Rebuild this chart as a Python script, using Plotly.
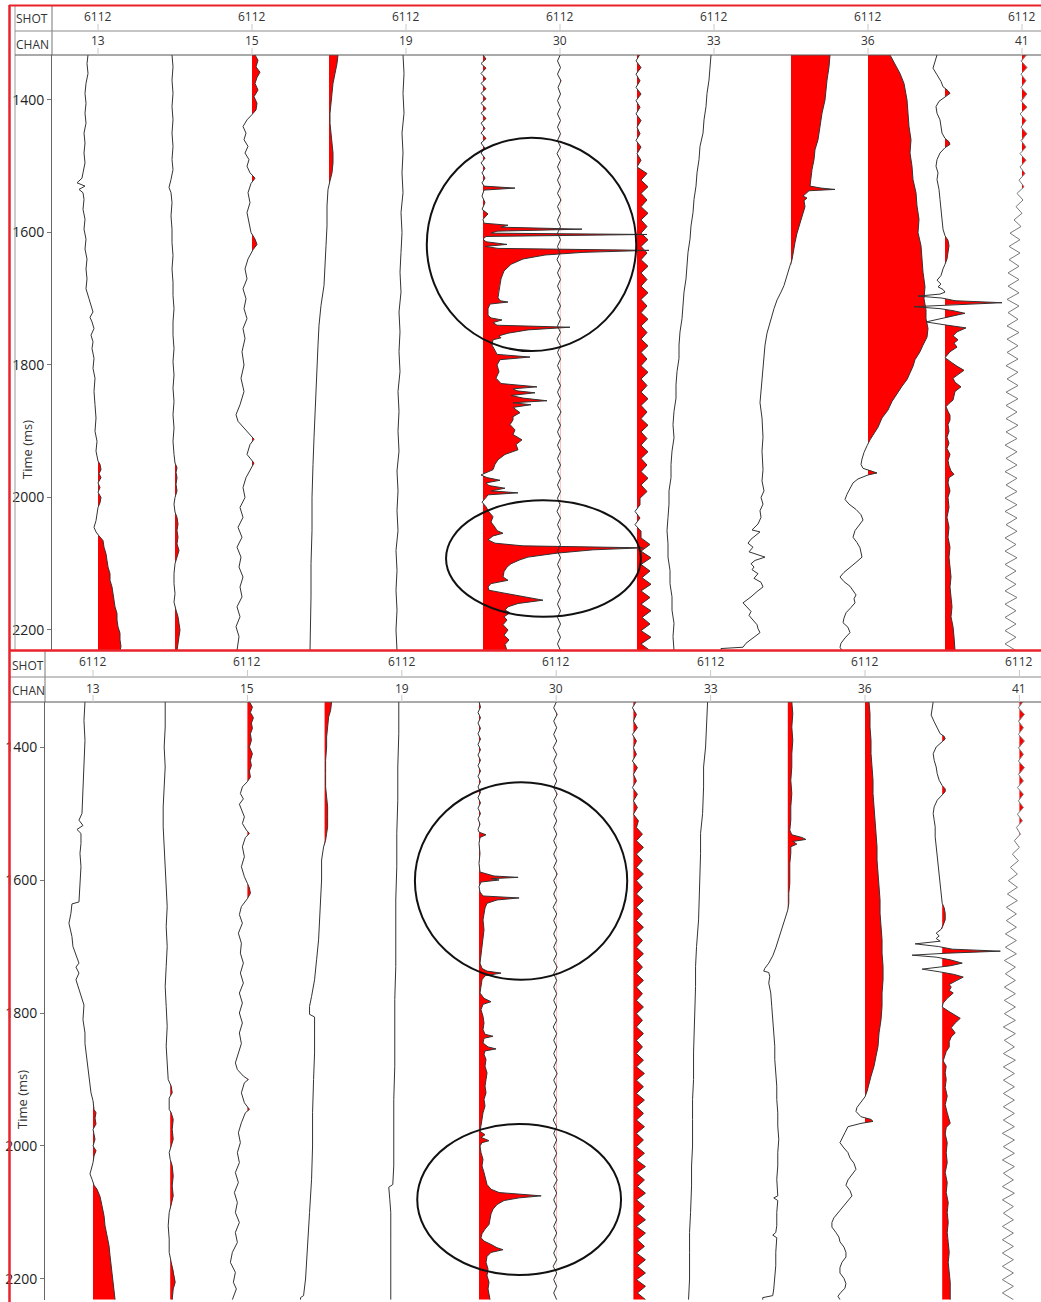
import plotly.graph_objects as go

W, H = 1041, 1302

# ---------------- labels / ticks ----------------
LABEL_IDX = [0, 2, 4, 6, 8, 10, 12]
SHOT_LABELS = ["6112", "6112", "6112", "6112", "6112", "6112", "6112"]
CHAN_LABELS = ["13", "15", "19", "30", "33", "36", "41"]
TIME_TICKS = [1400, 1600, 1800, 2000, 2200]

# amplitude unit: 1 = 1/77 of trace spacing
GAIN = 1.0 / 77.0

# regular sample times (ms) for the oscillating traces
ZIG_T = list(range(1331, 2232, 10))

# ---------------- TOP PANEL traces (time ms, amplitude) ----------------
T0 = [(1332,-10),(1345,-11),(1360,-10),(1375,-12),(1390,-13),(1405,-12),(1420,-13),(1435,-12),(1450,-14),(1465,-13),
      (1480,-14),(1495,-13),(1510,-15),(1518,-16),(1525,-21),(1530,-13),(1535,-19),(1540,-15),(1550,-14),(1565,-15),
      (1580,-13),(1595,-14),(1610,-12),(1625,-13),(1640,-11),(1655,-12),(1670,-11),(1685,-12),(1700,-9),(1710,-7),
      (1720,-5),(1728,-8),(1735,-6),(1745,-4),(1755,-7),(1765,-5),(1775,-6),(1790,-4),(1805,-5),(1820,-3),(1840,-4),
      (1860,-3),(1880,-2),(1900,-3),(1915,-1),(1930,-2),(1945,0),(1950,2),(1958,3),(1964,1),(1970,3),(1978,0),(1985,2),
      (1992,0),(2000,3),(2008,2),(2015,0),(2025,-1),(2035,-2),(2045,-4),(2052,-2),(2058,1),(2065,5),(2075,6),(2085,8),
      (2095,9),(2105,10),(2115,12),(2125,12),(2135,14),(2145,15),(2155,16),(2165,17),(2175,19),(2185,19),(2195,20),
      (2205,22),(2215,22),(2225,23),(2231,22)]
T1 = [(1332,-3),(1350,-2),(1370,-3),(1390,-2),(1410,-3),(1430,-2),(1450,-3),(1470,-2),(1490,-3),(1505,-2),(1520,-4),
      (1532,-6),(1540,-4),(1555,-3),(1575,-4),(1595,-3),(1615,-3),(1635,-2),(1655,-3),(1675,-2),(1695,-2),(1715,-1),
      (1735,-2),(1755,-2),(1775,-1),(1795,-2),(1815,-1),(1835,-2),(1855,-1),(1875,-2),(1895,-1),(1915,-2),(1935,-1),
      (1948,0),(1955,2),(1962,1),(1970,2),(1980,1),(1990,2),(2000,0),(2010,-1),(2022,0),(2030,2),(2040,3),(2050,2),
      (2060,3),(2070,2),(2080,4),(2090,2),(2100,0),(2115,-1),(2130,-1),(2145,0),(2158,-1),(2170,1),(2180,3),(2190,4),
      (2200,5),(2210,4),(2220,3),(2231,2)]
T2 = [(1332,3),(1340,6),(1350,4),(1358,8),(1366,5),(1375,3),(1385,6),(1395,2),(1405,5),(1415,4),(1422,0),(1430,-5),
      (1440,-9),(1450,-6),(1460,-8),(1470,-4),(1480,-7),(1490,-3),(1500,-5),(1510,-2),(1518,3),(1526,-1),(1540,-4),
      (1555,-2),(1570,-5),(1585,-3),(1600,-1),(1610,3),(1618,5),(1626,1),(1640,-4),(1655,-7),(1670,-5),(1685,-9),
      (1700,-6),(1715,-8),(1730,-5),(1745,-9),(1760,-7),(1780,-10),(1800,-8),(1820,-11),(1840,-8),(1860,-12),(1875,-16),
      (1885,-14),(1895,-8),(1905,-3),(1912,2),(1920,-2),(1935,-5),(1948,2),(1956,-1),(1970,-6),(1985,-9),(2000,-7),
      (2015,-12),(2030,-9),(2045,-14),(2060,-10),(2075,-15),(2090,-11),(2105,-13),(2120,-9),(2135,-12),(2150,-10),
      (2165,-15),(2180,-12),(2195,-16),(2210,-13),(2231,-15)]
T3 = [(1332,9),(1345,8),(1360,6),(1375,4),(1390,3),(1405,2),(1420,1),(1435,1),(1450,2),(1465,3),(1480,4),(1495,4),
      (1510,3),(1522,1),(1535,-1),(1560,-2),(1590,-2),(1620,-3),(1650,-4),(1680,-5),(1710,-8),(1740,-10),(1770,-11),
      (1800,-12),(1830,-13),(1870,-14),(1910,-15),(1950,-16),(2000,-17),(2050,-17),(2100,-18),(2150,-18),(2200,-19),
      (2231,-19)]
T4 = [(1332,-3),(1360,-2),(1390,-3),(1420,-2),(1450,-4),(1480,-3),(1510,-4),(1540,-3),(1570,-5),(1600,-4),(1630,-5),
      (1660,-6),(1690,-5),(1720,-7),(1750,-6),(1780,-7),(1810,-6),(1840,-8),(1870,-7),(1900,-8),(1930,-7),(1960,-9),
      (1990,-8),(2020,-9),(2050,-8),(2080,-10),(2110,-9),(2140,-10),(2170,-9),(2200,-10),(2231,-9)]
T5 = [(1332,0),(1338,3),(1345,-2),(1352,3),(1360,-2),(1368,3),(1375,-2),(1383,3),(1390,-2),(1398,3),(1405,-2),(1413,3),
      (1420,-2),(1428,3),(1435,-2),(1443,2),(1450,-2),(1458,3),(1465,-2),(1473,2),(1480,-2),(1488,2),(1495,-2),(1503,2),
      (1510,-1),(1518,2),(1525,-1),(1530,1),(1533,32),(1536,1),(1545,-1),(1555,2),(1565,-1),(1572,5),(1580,0),(1586,1),
      (1589,25),(1592,18),(1595,99),(1598,14),(1601,8),(1603,164),(1606,3),(1610,0),(1614,3),(1618,24),(1621,2),
      (1624,15),(1627,166),(1630,100),(1634,62),(1640,40),(1648,28),(1658,21),(1670,18),(1685,16),(1698,15),(1703,17),
      (1705,25),(1708,7),(1715,5),(1725,5),(1729,8),(1732,19),(1736,10),(1740,14),(1743,87),(1747,45),(1752,25),
      (1756,16),(1759,18),(1762,10),(1770,9),(1778,12),(1784,14),(1788,47),(1792,17),(1800,14),(1810,16),(1820,13),
      (1828,18),(1833,54),(1836,30),(1839,34),(1842,52),(1846,28),(1850,40),(1854,64),(1857,30),(1860,48),(1864,30),
      (1872,37),(1878,30),(1883,30),(1890,27),(1898,32),(1905,30),(1913,39),(1920,33),(1928,35),(1935,22),(1943,15),
      (1950,12),(1958,10),(1962,3),(1966,-2),(1970,4),(1974,17),(1978,3),(1982,6),(1986,22),(1990,8),(1993,35),(1996,5),
      (2000,3),(2007,-1),(2014,3),(2022,6),(2029,10),(2037,8),(2045,12),(2050,14),(2054,20),(2058,10),(2064,5),
      (2069,12),(2073,40),(2076,160),(2079,110),(2084,74),(2090,45),(2094,37),(2100,28),(2105,24),(2112,21),(2120,20),
      (2125,25),(2130,8),(2135,5),(2140,6),(2144,20),(2150,40),(2155,60),(2160,35),(2165,25),(2170,22),(2174,27),
      (2180,21),(2185,24),(2192,20),(2200,25),(2208,21),(2215,26),(2222,22),(2231,24)]
T6 = [0.5,-2.5,0.5,-2.5,1,-2,0.5,-2.5,0.5,-2.5,
      0.5,-2.5,0.5,-2.5,0.5,-3,0.5,-2.5,0.5,-2.5,
      0.5,-2.5,1,-2.5,0.5,-2.5,0.5,-2.5,0.5,-2.5,
      0,-3,0.5,-2.5,0.5,-2.5,0.5,-2.5,0.5,-2.5,
      0.5,-2.5,0.5,-3,0.5,-2.5,0.5,-2.5,0.5,-2.5,
      0.5,-2.5,0.5,-2.5,1,-2.5,0.5,-2.5,0.5,-2.5,
      0.5,-2.5,0.5,-2.5,0.5,-2.5,0.5,-2.5,0,-3,
      0.5,-2.5,0.5,-2.5,0.5,-2.5,0.5,-2.5,0.5,-2.5,
      0.5,-2.5,0.5,-2.5,0.5,-2.5,0.5,-2.5,0.5,-2.5,
      0.5]
T7 = [3,-1,4,-1,3,-1,4,-1,3,-1,
      4,0,3,-1,4,0,4,0,
      10,4,11,4,10,4,11,4,10,4,
      11,4,10,4,11,4,10,4,11,4,
      10,4,11,4,10,4,11,4,10,4,
      11,4,10,4,11,4,10,4,11,4,
      10,4,11,4,10,4,11,4,10,3,
      3,-2,3,-2,4,
      4,13,4,14,4,13,5,14,4,13,4,14,5,13,4,14,4,
      13]
T8 = [(1332,-3),(1350,-4),(1370,-5),(1390,-7),(1410,-8),(1430,-10),(1450,-11),(1470,-14),(1490,-15),(1510,-17),
      (1530,-18),(1550,-20),(1570,-21),(1590,-23),(1610,-24),(1630,-26),(1650,-27),(1670,-28),(1690,-30),(1710,-31),
      (1730,-32),(1750,-34),(1770,-35),(1790,-35),(1810,-37),(1830,-38),(1850,-38),(1870,-40),(1890,-41),(1910,-40),
      (1930,-42),(1950,-43),(1970,-43),(1990,-45),(2010,-45),(2030,-46),(2050,-47),(2070,-46),(2090,-46),(2110,-44),
      (2130,-44),(2150,-42),(2170,-42),(2190,-40),(2210,-41),(2231,-40)]
T9 = [(1332,39),(1350,38),(1370,36),(1390,35),(1400,34),(1420,31),(1440,29),(1460,27),(1475,24),(1490,23),(1505,21),
      (1520,20),(1530,19),(1533,30),(1535,44),(1537,18),(1541,15),(1545,12),(1548,16),(1552,13),(1561,14),(1575,11),
      (1590,8),(1601,6),(1615,4),(1630,2),(1641,1),(1650,-1),(1667,-4),(1680,-7),(1690,-10),(1702,-14),(1715,-17),
      (1730,-20),(1752,-24),(1770,-26),(1790,-27),(1812,-28),(1830,-29),(1857,-31),(1880,-29),(1909,-28),(1930,-29),
      (1958,-28),(1975,-29),(1990,-27),(2000,-30),(2010,-28),(2020,-31),(2030,-30),(2040,-33),(2049,-39),(2052,-31),
      (2058,-36),(2063,-40),(2069,-43),(2075,-38),(2082,-42),(2090,-26),(2095,-36),(2100,-40),(2105,-37),(2109,-39),
      (2115,-33),(2122,-37),(2128,-30),(2135,-28),(2142,-34),(2150,-40),(2159,-48),(2165,-44),(2172,-40),(2178,-42),
      (2185,-38),(2192,-34),(2198,-33),(2204,-31),(2212,-38),(2220,-45),(2226,-48),(2228,-70),(2231,-70)]
T10 = [(1332,22),(1345,27),(1360,32),(1375,36),(1390,38),(1400,39),(1420,40),(1440,41),(1460,43),(1480,42),(1500,44),
       (1520,45),(1540,48),(1560,49),(1580,51),(1600,50),(1620,53),(1640,54),(1660,55),(1682,57),(1700,56),(1717,58),
       (1730,58),(1745,60),(1758,59),(1770,55),(1780,52),(1792,47),(1802,45),(1812,42),(1822,39),(1832,34),(1842,30),
       (1855,24),(1868,20),(1880,14),(1894,10),(1905,5),(1913,2),(1922,-1),(1932,-4),(1942,-6),(1950,-7),(1956,-5),
       (1960,4),(1963,9),(1966,0),(1972,-10),(1978,-15),(1986,-18),(1995,-21),(2003,-23),(2010,-19),(2018,-12),
       (2026,-7),(2034,-5),(2042,-9),(2050,-13),(2060,-15),(2068,-11),(2076,-8),(2083,-7),(2090,-6),(2098,-12),
       (2106,-19),(2113,-24),(2120,-28),(2127,-24),(2134,-18),(2140,-15),(2147,-12),(2153,-14),(2159,-13),(2166,-17),
       (2174,-22),(2182,-24),(2189,-25),(2196,-20),(2204,-18),(2212,-23),(2220,-27),(2226,-28),(2231,-26)]
T11 = [(1332,-8),(1342,-10),(1352,-12),(1362,-8),(1372,-4),(1380,-2),(1386,3),(1390,5),(1395,0),(1402,-6),(1410,-9),
       (1420,-8),(1430,-5),(1440,-4),(1450,-3),(1458,0),(1463,4),(1467,5),(1472,0),(1480,-5),(1490,-8),(1500,-9),
       (1510,-7),(1520,-8),(1535,-6),(1550,-5),(1565,-4),(1580,-3),(1595,-2),(1605,0),(1612,3),(1620,4),(1630,3),
       (1640,2),(1648,0),(1655,-2),(1665,-4),(1672,-8),(1678,-4),(1682,-7),(1686,-2),(1690,0),(1693,-5),(1696,-27),
       (1699,-3),(1703,10),(1706,57),(1709,5),(1712,-31),(1715,-5),(1718,8),(1722,20),(1726,8),(1731,-5),(1735,-19),
       (1739,-2),(1744,21),(1750,12),(1756,8),(1762,13),(1767,9),(1773,12),(1780,5),(1789,0),(1796,6),(1802,12),
       (1808,19),(1815,12),(1820,8),(1826,10),(1833,16),(1840,10),(1847,9),(1853,8),(1858,4),(1863,1),(1870,3),
       (1876,5),(1883,5),(1890,3),(1900,4),(1909,2),(1918,4),(1926,2),(1935,5),(1944,3),(1952,4),(1960,6),(1965,9),
       (1970,4),(1978,3),(1990,5),(2000,3),(2015,4),(2030,2),(2045,4),(2060,3),(2075,5),(2090,4),(2105,5),(2120,6),
       (2135,5),(2150,6),(2165,7),(2180,6),(2195,8),(2210,9),(2231,10)]
T12 = [5,-1,5,-1,4,-1,5,-1,5,-2,4,-1,5,-1,4,-2,4,-2,3,
       -3,2,-5,1,-6,0,-8,-1,
       -12,-2,-13,-2,-13,-3,-14,-3,-14,-3,
       -15,-3,-14,-4,-15,-3,-15,-4,-15,-4,
       -16,-4,-15,-4,-16,-4,-16,-5,-16,-4,
       -16,-5,-17,-5,-16,-5,-17,-5,-16,-5,
       -17,-5,-17,-5,-16,-5,-17,-6,-17,-5,
       -17,-6,-17,-6,-17,-5,-17,-6,-17,-6,
       -17,-6,-17,
       -6]

# ---------------- BOTTOM PANEL traces ----------------
B0 = [(1332,-8),(1360,-9),(1390,-8),(1420,-9),(1450,-10),(1480,-11),(1500,-11),(1510,-14),(1518,-10),(1524,-16),
      (1530,-12),(1545,-12),(1560,-13),(1580,-12),(1600,-13),(1620,-14),(1633,-14),(1636,-21),(1650,-22),(1665,-24),
      (1673,-23),(1685,-21),(1700,-20),(1715,-16),(1725,-14),(1731,-17),(1740,-14),(1750,-17),(1760,-15),(1775,-12),
      (1788,-9),(1810,-10),(1830,-8),(1846,-8),(1870,-6),(1890,-4),(1904,-3),(1920,-2),(1932,0),(1945,1),(1950,3),
      (1958,2),(1967,3),(1975,0),(1990,2),(2000,0),(2007,3),(2015,1),(2025,0),(2035,-2),(2042,-3),(2050,-1),(2059,1),
      (2065,4),(2076,7),(2090,9),(2105,11),(2120,12),(2134,14),(2150,16),(2165,17),(2180,18),(2191,19),(2205,20),
      (2215,21),(2226,21),(2231,22)]
B1 = [(1332,-5),(1370,-5),(1400,-6),(1430,-5),(1460,-6),(1490,-7),(1520,-7),(1550,-6),(1580,-5),(1610,-4),(1640,-3),
      (1670,-4),(1700,-3),(1730,-4),(1760,-5),(1790,-4),(1820,-3),(1850,-4),(1880,-3),(1900,-2),(1910,1),(1920,2),
      (1928,-1),(1945,-1),(1950,1),(1960,3),(1975,2),(1990,3),(2000,1),(2010,-1),(2020,0),(2030,2),(2045,3),(2060,2),
      (2075,3),(2090,1),(2100,-1),(2120,-2),(2140,-1),(2160,-1),(2175,1),(2185,3),(2195,4),(2205,5),(2215,3),(2231,2)]
B2 = [(1332,2),(1340,5),(1348,3),(1356,6),(1364,4),(1372,5),(1380,3),(1390,4),(1400,2),(1410,5),(1420,3),(1428,4),
      (1436,2),(1445,3),(1452,0),(1460,-5),(1470,-7),(1478,-4),(1486,-8),(1495,-6),(1505,-3),(1515,-5),(1525,-1),
      (1530,2),(1536,-2),(1550,-5),(1565,-3),(1580,-6),(1595,-3),(1605,0),(1612,2),(1620,3),(1628,0),(1640,-6),
      (1652,-8),(1665,-5),(1680,-9),(1695,-6),(1710,-7),(1725,-4),(1740,-7),(1755,-4),(1770,-8),(1785,-5),(1800,-8),
      (1815,-5),(1830,-8),(1846,-6),(1860,-9),(1875,-12),(1885,-10),(1895,-4),(1900,1),(1905,-3),(1920,-6),(1935,-3),
      (1945,2),(1950,-2),(1965,-6),(1980,-9),(1995,-7),(2010,-10),(2025,-8),(2040,-12),(2055,-9),(2070,-13),(2085,-10),
      (2100,-12),(2115,-8),(2130,-12),(2145,-10),(2160,-15),(2175,-17),(2190,-12),(2205,-14),(2215,-11),(2231,-15)]
B3 = [(1332,7),(1345,6),(1355,4),(1370,3),(1385,2),(1400,2),(1420,1),(1440,1),(1460,1),(1475,2),(1490,3),(1505,3),
      (1520,3),(1530,2),(1540,1),(1550,-1),(1570,-3),(1600,-3),(1630,-4),(1660,-5),(1690,-6),(1720,-8),(1750,-10),
      (1775,-13),(1790,-15),(1802,-15),(1806,-10),(1830,-10),(1860,-10),(1900,-11),(1950,-12),(2000,-12),(2050,-13),
      (2100,-15),(2150,-17),(2200,-19),(2225,-21),(2228,-24),(2231,-24)]
B4 = [(1332,-3),(1380,-3),(1430,-4),(1480,-4),(1530,-5),(1580,-5),(1630,-6),(1680,-6),(1730,-6),(1780,-7),(1830,-7),
      (1880,-7),(1930,-8),(1980,-8),(2030,-8),(2058,-9),(2062,-13),(2080,-12),(2100,-11),(2140,-11),(2180,-11),
      (2231,-11)]
B5 = [(1332,0),(1340,1.5),(1348,-1),(1356,1.5),(1364,-1),(1372,1.5),(1380,-1),(1388,1.5),(1396,-1),(1404,1.5),
      (1412,-1),(1420,1.5),(1428,-1),(1436,1.5),(1444,-1),(1452,1.5),(1460,-1),(1468,1.5),(1476,-1),(1484,1.5),
      (1492,-1),(1500,1.5),(1508,-1),(1516,1),(1524,-1),(1528,0),(1532,7),(1536,1),(1545,0),(1560,1),(1575,0),
      (1588,1),(1591,8),(1594,15),(1596,39),(1598,12),(1600,20),(1603,2),(1610,0),(1618,1),(1624,4),(1627,40),
      (1630,18),(1635,8),(1642,6),(1650,5),(1660,4),(1675,5),(1690,4),(1705,3),(1715,2),(1725,1),(1733,3),(1737,8),
      (1740,22),(1744,6),(1750,3),(1760,2),(1770,1),(1778,5),(1783,12),(1787,4),(1795,2),(1805,4),(1815,5),(1825,4),
      (1832,6),(1835,14),(1838,5),(1845,4),(1851,9),(1854,17),(1857,6),(1862,5),(1870,7),(1880,6),(1890,8),(1900,7),
      (1910,6),(1920,7),(1930,5),(1940,6),(1950,4),(1960,3),(1970,2),(1978,1),(1983,6),(1987,2),(1992,10),(1995,3),
      (2000,1),(2010,2),(2020,4),(2030,3),(2040,5),(2050,7),(2058,8),(2065,12),(2070,20),(2075,62),(2078,40),(2082,25),
      (2088,18),(2095,14),(2102,12),(2110,11),(2118,10),(2125,6),(2132,3),(2138,2),(2143,5),(2148,12),(2153,18),
      (2156,24),(2160,12),(2166,8),(2175,7),(2185,9),(2195,8),(2205,10),(2215,9),(2231,11)]
B6 = [0.5,-2.5,1,-2.5,0.5,-2.5,0.5,-3,0.5,-2.5,
      0.5,-2.5,0.5,-2.5,1,-2.5,0.5,-2.5,0.5,-2.5,
      0.5,-2.5,0.5,-2.5,0.5,-2.5,1,-2.5,0.5,-2.5,
      0.5,-3,0.5,-2.5,0.5,-2.5,0.5,-2.5,0.5,-2.5,
      1,-2.5,0.5,-2.5,0.5,-2.5,0.5,-2.5,0.5,-3,
      0.5,-2.5,0.5,-2.5,0.5,-2.5,1,-2.5,0.5,-2.5,
      0.5,-2.5,0.5,-3,0.5,-2.5,0.5,-2.5,0.5,-2.5,
      0.5,-2.5,1,-2.5,0.5,-2.5,0.5,-2.5,0.5,-2.5,
      0.5,-2.5,0.5,-2.5,0.5,-3,0.5,-2.5,0.5,-2.5,
      0.5]
B7 = [3,-1,3,0,4,-1,3,0,3,-1,4,0,3,-1,4,0,4,0,5,
      3,9,3,10,3,9,3,10,3,9,
      3,10,3,9,3,10,3,9,3,10,
      3,9,3,10,3,9,3,10,3,9,
      3,10,3,9,3,10,3,11,3,10,
      3,11,3,10,3,11,3,10,3,11,
      3,12,3,11,4,12,3,11,4,12,
      3,12,4,11,3,12,4,12,3,12,
      4,
      12]
B8 = [(1332,-3),(1360,-4),(1400,-5),(1430,-7),(1460,-7),(1500,-8),(1530,-10),(1560,-10),(1600,-11),(1630,-12),
      (1660,-12),(1700,-14),(1730,-15),(1760,-15),(1800,-16),(1830,-17),(1860,-17),(1900,-17),(1930,-18),(1960,-18),
      (2000,-18),(2030,-19),(2060,-19),(2100,-20),(2130,-21),(2160,-21),(2200,-21),(2231,-22)]
B9 = [(1332,4),(1350,5),(1370,4),(1390,5),(1410,4),(1430,4),(1450,3),(1470,4),(1490,3),(1510,3),(1525,2),(1532,4),
      (1536,14),(1539,18),(1542,5),(1546,9),(1550,3),(1560,3),(1575,2),(1590,2),(1605,2),(1620,1),(1635,1),(1645,0),
      (1655,-2),(1665,-4),(1678,-7),(1690,-9),(1702,-12),(1714,-15),(1725,-19),(1733,-23),(1737,-24),(1739,-19),
      (1745,-18),(1755,-19),(1770,-17),(1790,-16),(1810,-15),(1830,-14),(1850,-13),(1870,-13),(1890,-12),(1910,-11),
      (1930,-11),(1950,-10),(1970,-10),(1990,-9),(2010,-10),(2030,-10),(2050,-11),(2065,-10),(2075,-10),(2078,-14),
      (2082,-10),(2100,-11),(2120,-11),(2130,-12),(2134,-15),(2138,-11),(2160,-12),(2180,-12),(2200,-13),(2215,-14),
      (2225,-15),(2228,-25),(2231,-25)]
B10 = [(1332,4),(1350,5),(1370,5),(1390,6),(1410,6),(1430,7),(1450,8),(1470,8),(1490,9),(1510,10),(1530,11),
       (1550,12),(1570,12),(1590,13),(1610,14),(1630,15),(1650,15),(1670,16),(1690,17),(1710,17),(1730,18),(1750,18),
       (1770,17),(1790,17),(1810,16),(1830,14),(1850,13),(1865,11),(1880,9),(1895,6),(1908,4),(1918,2),(1926,0),
       (1934,-4),(1942,-8),(1948,-9),(1952,-6),(1956,-4),(1960,6),(1963,8),(1966,-4),(1971,-17),(1980,-20),(1988,-23),
       (1995,-25),(2003,-21),(2010,-17),(2018,-15),(2026,-11),(2035,-9),(2043,-13),(2051,-17),(2059,-19),(2067,-15),
       (2075,-13),(2084,-18),(2093,-23),(2100,-27),(2108,-31),(2115,-33),(2122,-33),(2130,-29),(2137,-26),(2144,-25),
       (2152,-21),(2160,-19),(2167,-19),(2175,-23),(2183,-25),(2191,-25),(2199,-21),(2207,-19),(2214,-20),(2220,-24),
       (2226,-27),(2231,-25)]
B11 = [(1332,-9),(1342,-10),(1352,-11),(1362,-8),(1372,-5),(1380,-2),(1384,2),(1388,3),(1392,0),(1400,-6),(1410,-9),
       (1420,-8),(1430,-6),(1440,-5),(1450,-3),(1458,0),(1463,3),(1467,3),(1472,0),(1480,-5),(1490,-8),(1500,-9),
       (1510,-8),(1520,-7),(1535,-7),(1550,-6),(1565,-5),(1580,-4),(1595,-3),(1610,-2),(1625,-1),(1635,0),(1642,2),
       (1650,3),(1660,3),(1668,1),(1674,-1),(1680,-6),(1684,-3),(1688,-6),(1692,-2),(1696,-27),(1700,-4),(1704,10),
       (1707,58),(1710,5),(1713,-30),(1716,-6),(1720,8),(1725,20),(1729,8),(1731,-3),(1734,-20),(1738,-3),(1742,12),
       (1746,21),(1752,13),(1757,7),(1761,9),(1766,7),(1770,11),(1778,5),(1785,1),(1791,0),(1797,6),(1803,12),
       (1808,18),(1815,13),(1822,9),(1830,13),(1836,9),(1843,7),(1851,7),(1858,4),(1866,2),(1872,1),(1880,4),(1890,3),
       (1900,4),(1912,3),(1925,5),(1938,3),(1950,5),(1960,7),(1966,8),(1972,4),(1982,3),(1995,5),(2010,4),(2025,5),
       (2040,3),(2055,5),(2070,4),(2085,6),(2100,5),(2115,6),(2130,5),(2145,6),(2160,7),(2175,6),(2190,7),(2205,8),
       (2218,8),(2231,8)]
B12 = [4,-1,5,-1,4,-1,5,-1,4,-1,5,-1,4,-2,4,-1,4,-2,3,
       -3,1,-5,0,-7,-1,-9,-2,
       -11,-2,-12,-2,-13,-3,-13,-3,-14,-3,
       -14,-3,-15,-4,-14,-4,-15,-4,-15,-4,
       -15,-4,-16,-4,-15,-5,-16,-4,-16,-5,
       -16,-5,-16,-5,-16,-5,-16,-5,-17,-5,
       -16,-5,-17,-5,-16,-6,-17,-5,-17,-6,
       -16,-6,-17,-6,-17,-6,-17,-6,-17,-6,
       -17,-6,-17,
       -6]

TOP_TRACES = [T0, T1, T2, T3, T4, T5, list(zip(ZIG_T, T6)), list(zip(ZIG_T, T7)), T8, T9, T10, T11,
              list(zip(ZIG_T, T12))]
BOT_TRACES = [B0, B1, B2, B3, B4, B5, list(zip(ZIG_T, B6)), list(zip(ZIG_T, B7)), B8, B9, B10, B11,
              list(zip(ZIG_T, B12))]

# circled zones: (trace-index left, right, time top, bottom)
TOP_CIRCLES = [(4.27, 6.99, 1457, 1779), (4.52, 7.05, 2004, 2180)]
BOT_CIRCLES = [(4.17, 6.92, 1453, 1750), (4.20, 6.84, 1967, 2194)]

RED = "#ff0000"
BORDER_RED = "#e8232b"
FONT = "Open Sans"


def px(xp):
    return xp / W


def py(yp):
    return 1 - yp / H


def fill_polygon(base, pts):
    xs, ys = [], []
    for k, (t0, a0) in enumerate(pts):
        xs.append(base + max(a0, 0) * GAIN)
        ys.append(t0)
        if k + 1 < len(pts):
            t1, a1 = pts[k + 1]
            if (a0 > 0 > a1) or (a0 < 0 < a1):
                tc = t0 + (t1 - t0) * a0 / (a0 - a1)
                xs.append(base)
                ys.append(tc)
    xs += [base, base]
    ys += [pts[-1][0], pts[0][0]]
    return xs, ys


fig = go.Figure()

for traces, xa, ya in [(TOP_TRACES, "x", "y"), (BOT_TRACES, "x2", "y2")]:
    for i, pts in enumerate(traces):
        fx, fy = fill_polygon(i, pts)
        fig.add_trace(go.Scatter(x=fx, y=fy, mode="lines", fill="toself", fillcolor=RED,
                                 line=dict(width=0, color=RED), xaxis=xa, yaxis=ya,
                                 hoverinfo="skip", showlegend=False))
    for i, pts in enumerate(traces):
        col = "#7a7a7a" if i == 12 else "#333333"
        fig.add_trace(go.Scatter(x=[i + a * GAIN for _, a in pts], y=[t for t, _ in pts], mode="lines",
                                 line=dict(width=1, color=col), xaxis=xa, yaxis=ya,
                                 hoverinfo="skip", showlegend=False))

yax_common = dict(tickvals=TIME_TICKS, ticks="outside", ticklen=4, tickcolor="#777",
                  showline=True, linecolor="#666", linewidth=1, showgrid=False, zeroline=False,
                  tickfont=dict(family=FONT, size=14, color="#222"))

fig.update_layout(
    width=W, height=H, margin=dict(l=0, r=0, t=0, b=0),
    paper_bgcolor="white", plot_bgcolor="white", showlegend=False, hovermode=False,
    xaxis=dict(domain=[px(52), 1], range=[-46 / 77, 943 / 77], visible=False, anchor="y"),
    yaxis=dict(domain=[py(650), py(55)], range=[2230.2, 1332.1], anchor="x", **yax_common),
    xaxis2=dict(domain=[px(45), 1], range=[-48 / 77.2, 948 / 77.2], visible=False, anchor="y2"),
    yaxis2=dict(domain=[py(1300), py(702)], range=[2231.6, 1332.3], anchor="x2", **yax_common),
)

shapes = []


def pline(x0, y0, x1, y1, color, width):
    shapes.append(dict(type="line", xref="paper", yref="paper", x0=px(x0), y0=py(y0), x1=px(x1), y1=py(y1),
                       line=dict(color=color, width=width), layer="above"))


# top panel header frame
pline(15, 6, 15, 650, "#9a9a9a", 1)
pline(52, 6, 52, 55, "#777", 1)
pline(15, 31, W, 31, "#8a8a8a", 1)
pline(15, 55, W, 55, "#555", 1)
# bottom panel header frame
pline(45, 651, 45, 702, "#777", 1)
pline(9, 677, W, 677, "#8a8a8a", 1)
pline(9, 702, W, 702, "#555", 1)
# red borders
pline(9, 5.5, W, 5.5, BORDER_RED, 2)
pline(9.5, 5, 9.5, H, BORDER_RED, 2.5)
pline(9, 650.5, W, 650.5, BORDER_RED, 2.5)

# faint header ticks at labelled traces
for idx in LABEL_IDX:
    for (xr, y0, y1) in [("x", 24, 31), ("x", 48, 55), ("x2", 670, 677), ("x2", 695, 702)]:
        shapes.append(dict(type="line", xref=xr, yref="paper", x0=idx, x1=idx, y0=py(y0), y1=py(y1),
                           line=dict(color="#c8c8c8", width=1), layer="above"))

# circles
for (x0, x1, t0, t1) in TOP_CIRCLES:
    shapes.append(dict(type="circle", xref="x", yref="y", x0=x0, x1=x1, y0=t0, y1=t1,
                       line=dict(color="#111", width=2), layer="above"))
for (x0, x1, t0, t1) in BOT_CIRCLES:
    shapes.append(dict(type="circle", xref="x2", yref="y2", x0=x0, x1=x1, y0=t0, y1=t1,
                       line=dict(color="#111", width=2), layer="above"))

fig.update_layout(shapes=shapes)

ann = []
hdr_font = dict(family=FONT, size=12, color="#333")
for (xc, ys, yc) in [(32, 19, 44), (28, 665, 690)]:
    ann.append(dict(x=px(xc), y=py(ys), xref="paper", yref="paper", text="SHOT", showarrow=False,
                    font=dict(family=FONT, size=12, color="#333"), xanchor="center", yanchor="middle"))
    ann.append(dict(x=px(xc), y=py(yc), xref="paper", yref="paper", text="CHAN", showarrow=False,
                    font=dict(family=FONT, size=12, color="#333"), xanchor="center", yanchor="middle"))
for xr, ys, yc in [("x", 16, 41), ("x2", 662, 688)]:
    for idx, s, c in zip(LABEL_IDX, SHOT_LABELS, CHAN_LABELS):
        ann.append(dict(x=idx, y=py(ys), xref=xr, yref="paper", text=s, showarrow=False, font=hdr_font,
                        xanchor="center", yanchor="middle"))
        ann.append(dict(x=idx, y=py(yc), xref=xr, yref="paper", text=c, showarrow=False, font=hdr_font,
                        xanchor="center", yanchor="middle"))
for (xc, yc) in [(27, 450), (22, 1100)]:
    ann.append(dict(x=px(xc), y=py(yc), xref="paper", yref="paper", text="Time (ms)", showarrow=False,
                    textangle=-90, font=dict(family=FONT, size=13, color="#333"),
                    xanchor="center", yanchor="middle"))
fig.update_layout(annotations=ann)

fig.write_html("out.html")
